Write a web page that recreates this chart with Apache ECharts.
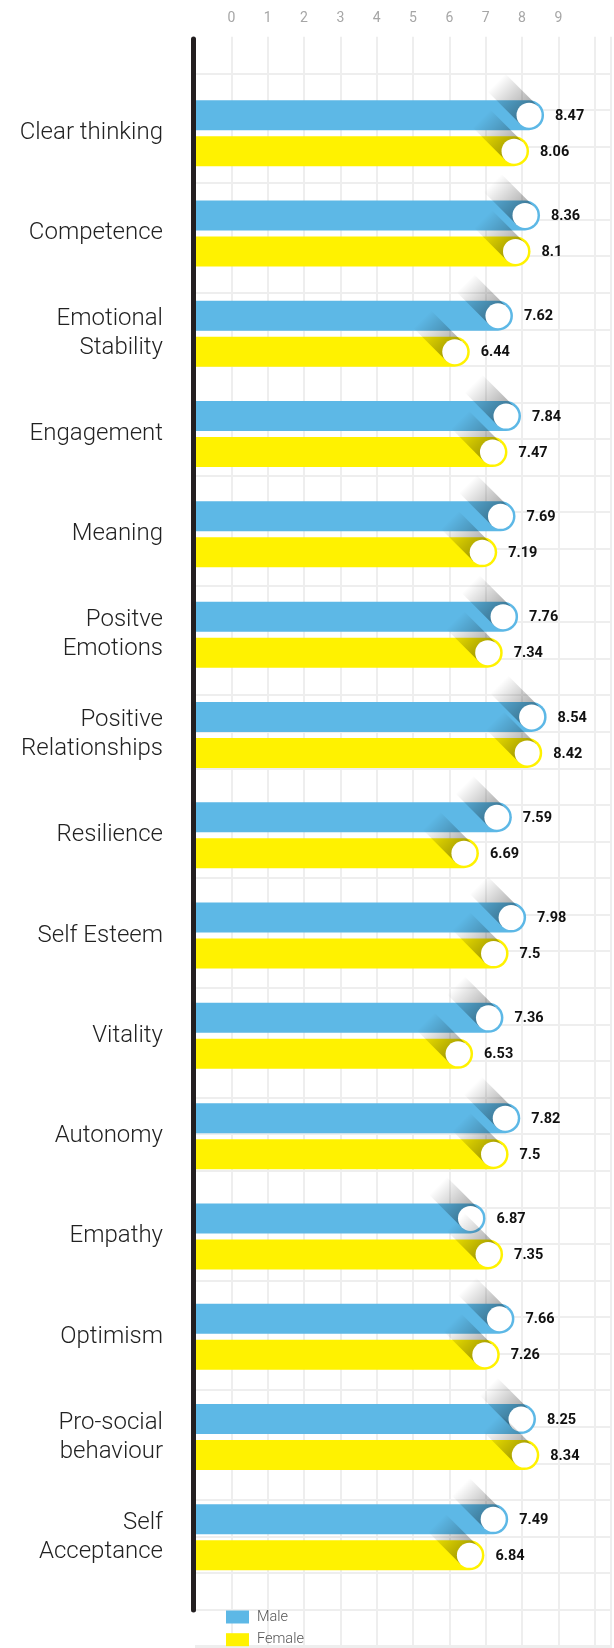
<!DOCTYPE html>
<html>
<head>
<meta charset="utf-8">
<script src="https://cdn.jsdelivr.net/npm/echarts@6/dist/echarts.min.js"></script>
<style>
  html, body { margin: 0; padding: 0; background: #fff; }
  #chart { width: 614px; height: 1648px; }
</style>
</head>
<body>
<div id="chart"></div>
<script>
var categories = ['Clear thinking', 'Competence', 'Emotional\nStability', 'Engagement', 'Meaning',
  'Positve\nEmotions', 'Positive\nRelationships', 'Resilience', 'Self Esteem', 'Vitality',
  'Autonomy', 'Empathy', 'Optimism', 'Pro-social\nbehaviour', 'Self\nAcceptance']
var male = [8.47, 8.36, 7.62, 7.84, 7.69, 7.76, 8.54, 7.59, 7.98, 7.36, 7.82, 6.87, 7.66, 8.25, 7.49]
var female = [8.06, 8.1, 6.44, 7.47, 7.19, 7.34, 8.42, 6.69, 7.5, 6.53, 7.5, 7.35, 7.26, 8.34, 6.84]
var xTicks = [0, 1, 2, 3, 4, 5, 6, 7, 8, 9]

var BLUE = '#5db8e6'
var YELLOW = '#fff200'

// pill bar with white knob and a long diagonal shadow
function pill(row) {
  return function (params, api) {
    var v = api.value(0)
    var c = api.coord([v, api.value(1)])
    var x0 = api.coord([-1, api.value(1)])[0]
    var h = 30
    var top = row === 0 ? c[1] - 33 : c[1] + 3
    var x1 = c[0] + 2.5
    var cx = x1 - h / 2
    var cy = top + h / 2
    var r = 12.5
    var d = Math.SQRT1_2
    var L = 46
    return {
      type: 'group',
      children: [
        {
          type: 'rect',
          shape: { x: x0, y: top, width: x1 - x0, height: h, r: [0, h / 2, h / 2, 0] },
          style: { fill: api.visual('color') }
        },
        {
          type: 'polygon',
          shape: {
            points: [
              [cx + r * d, cy - r * d],
              [cx - r * d, cy + r * d],
              [cx - r * d - L * d, cy + r * d - L * d],
              [cx + r * d - L * d, cy - r * d - L * d]
            ]
          },
          style: {
            fill: new echarts.graphic.LinearGradient(cx, cy, cx - L * d, cy - L * d, [
              { offset: 0, color: 'rgba(0,0,0,0.38)' },
              { offset: 1, color: 'rgba(0,0,0,0)' }
            ], true)
          }
        },
        {
          type: 'circle',
          shape: { cx: cx, cy: cy, r: r },
          style: { fill: '#fff' }
        },
        {
          type: 'text',
          style: {
            text: String(v),
            x: x1 + 11,
            y: cy + 1,
            align: 'left',
            verticalAlign: 'middle',
            fontFamily: 'Roboto',
            fontWeight: 'bold',
            fontSize: 14.5,
            fill: '#111'
          }
        }
      ]
    }
  }
}

var chart = echarts.init(document.getElementById('chart'))
chart.setOption({
  animation: false,
  backgroundColor: '#fff',
  legend: {
    data: ['Male', 'Female'],
    orient: 'vertical',
    left: 226,
    top: 1609.5,
    padding: 0,
    itemWidth: 23,
    itemHeight: 13,
    itemGap: 7.7,
    icon: 'rect',
    selectedMode: false,
    textStyle: { fontFamily: 'Roboto', fontWeight: 300, fontSize: 14.5, lineHeight: 14, color: '#555', padding: [0, 0, 0, 3] }
  },
  grid: [
    { left: 195, right: 0, top: 36.7, bottom: 0 }, // square background grid
    { left: 195, right: 0, top: 83, bottom: 60.5 }, // bars
    { left: 193.5, width: 1, top: 39, bottom: 38 } // black axis line
  ],
  xAxis: [
    {
      gridIndex: 0, type: 'value', position: 'top', min: -1, max: 10.45, interval: 1,
      axisLine: { show: false }, axisTick: { show: false },
      axisLabel: {
        margin: 11, fontFamily: 'Roboto', fontSize: 14, color: '#a6a6a6',
        formatter: function (v) { return xTicks.indexOf(v) >= 0 ? String(v) : '' }
      },
      splitLine: { show: true, showMinLine: false, lineStyle: { color: '#eeeeee', width: 2 } }
    },
    { gridIndex: 1, type: 'value', min: -1, max: 10.45, show: false },
    { gridIndex: 2, type: 'value', show: false }
  ],
  yAxis: [
    {
      gridIndex: 0, type: 'value', inverse: true, min: 0, max: 1611.3 / 36.58, interval: 1,
      axisLine: { show: false }, axisTick: { show: false }, axisLabel: { show: false },
      splitLine: { show: true, showMinLine: false, lineStyle: { color: '#eeeeee', width: 2 } }
    },
    {
      gridIndex: 1, type: 'category', inverse: true, data: categories,
      axisLine: { show: false }, axisTick: { show: false }, splitLine: { show: false },
      axisLabel: {
        margin: 32, fontFamily: 'Roboto', fontWeight: 300, fontSize: 24, lineHeight: 29, color: '#222', align: 'right'
      }
    },
    {
      gridIndex: 2, type: 'value', z: 10,
      axisLine: { show: true, lineStyle: { color: '#231f20', width: 5 } },
      axisTick: { show: false }, axisLabel: { show: false }, splitLine: { show: false }
    }
  ],
  series: [
    {
      name: 'Male', type: 'custom', xAxisIndex: 1, yAxisIndex: 1, clip: false,
      itemStyle: { color: BLUE },
      encode: { x: 0, y: 1 },
      renderItem: pill(0),
      data: male.map(function (v, i) { return [v, i] })
    },
    {
      name: 'Female', type: 'custom', xAxisIndex: 1, yAxisIndex: 1, clip: false,
      itemStyle: { color: YELLOW },
      encode: { x: 0, y: 1 },
      renderItem: pill(1),
      data: female.map(function (v, i) { return [v, i] })
    }
  ]
})
</script>
</body>
</html>
